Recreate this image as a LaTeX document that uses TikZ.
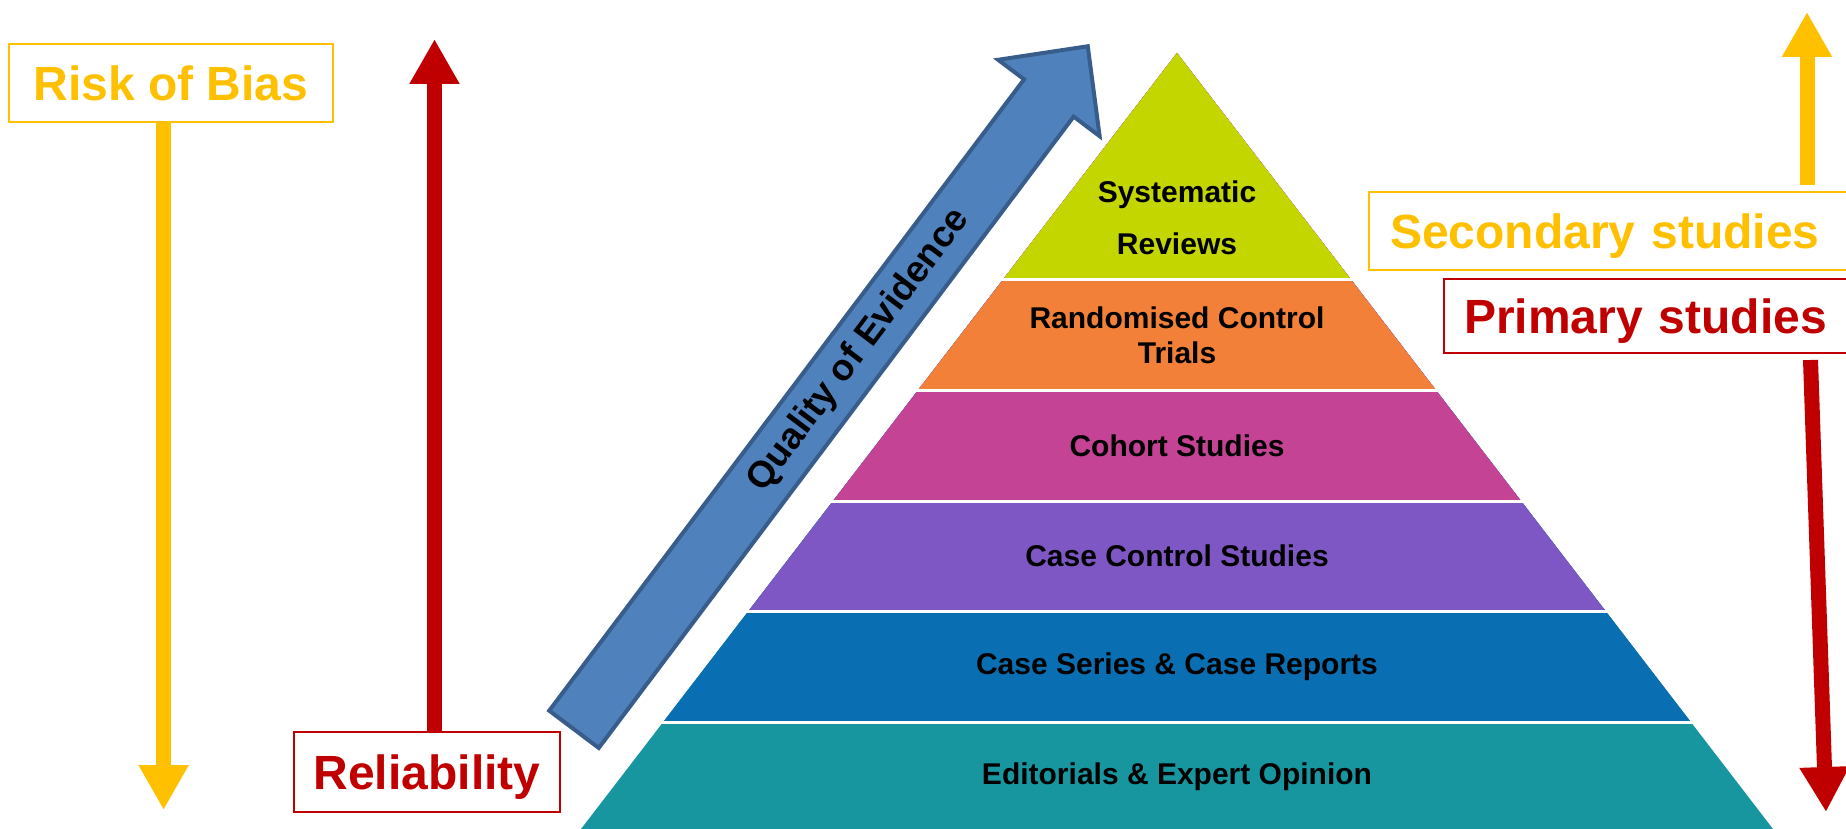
\documentclass[tikz,border=0pt]{standalone}
\usepackage{fontspec}
\setmainfont{Liberation Sans}
\usepackage{xcolor}
\usepackage{tikz}
\usetikzlibrary{positioning, calc, arrows.meta}
\definecolor{biasyellow}{RGB}{255,192,0}
\definecolor{reliabred}{RGB}{192,0,0}
\definecolor{srgreen}{RGB}{196,214,0}
\definecolor{rctorange}{RGB}{242,128,56}
\definecolor{cohortpink}{RGB}{196,67,148}
\definecolor{casepurple}{RGB}{127,87,196}
\definecolor{seriesblue}{RGB}{9,111,178}
\definecolor{opinionteal}{RGB}{24,150,160}
\definecolor{qualityblue}{RGB}{79,129,189}
\definecolor{qualityedge}{RGB}{56,93,138}

\tikzset{
  labelbox/.style={draw, line width=2pt, fill=white, inner sep=0pt, text depth=0pt,
    font=\fontsize{48}{56}\selectfont\bfseries},
  levelnode/.style={text=black, align=center, font=\fontsize{30}{35}\selectfont\bfseries},
  thickarrow/.style={line width=15pt, -{Triangle[width=47pt,length=45pt]}}
}

\begin{document}
\begin{tikzpicture}[x=1pt, y=1pt]
\useasboundingbox (0,0) rectangle (1846,828);
\clip (0,0) rectangle (1846,828);

%% pyramid, painted from the base up
\pgfmathsetmacro{\apexx}{1177}
\pgfmathsetmacro{\apexy}{775}
\pgfmathsetmacro{\slope}{0.768}
\foreach \lowy/\col in {-10/opinionteal, 106/seriesblue, 216.5/casepurple, 327/cohortpink, 437.5/rctorange, 548/srgreen} {
  \pgfmathsetmacro{\halfw}{\slope*(\apexy-\lowy)}
  \fill[\col] (\apexx,\apexy) -- (\apexx+\halfw,\lowy) -- (\apexx-\halfw,\lowy) -- cycle;
}
\foreach \gapy in {106, 216.5, 327, 437.5, 548} {
  \pgfmathsetmacro{\halfw}{\slope*(\apexy-\gapy)+4}
  \draw[white, line width=3pt] (\apexx-\halfw,\gapy) -- (\apexx+\halfw,\gapy);
}

\node[levelnode, font=\fontsize{30}{52}\selectfont\bfseries] (sr) at (\apexx,610) {Systematic\\Reviews};
\node[levelnode] (rct) at (\apexx,493) {Randomised Control\\Trials};
\node[levelnode] (cohort) at (\apexx,382) {Cohort Studies};
\node[levelnode] (casecontrol) at (\apexx,272) {Case Control Studies};
\node[levelnode] (caseseries) at (\apexx,161) {Case Series \& Case Reports};
\node[levelnode] (opinion) at (\apexx,51) {Editorials \& Expert Opinion};

%% quality arrow along the left flank
\begin{scope}[shift={(574,98.7)}, rotate=53.05]
\draw[fill=qualityblue, draw=qualityedge, line width=4pt] (0,-31) -- ++(790,0) -- ++(0,-32.5) -- (854.7,0) -- (790,63.5) -- ++(0,-32.5) -- (0,31) -- cycle;
\node[transform shape, text=black, font=\fontsize{37}{40}\selectfont\bfseries] (quality) at (474,0) {Quality of Evidence};
\end{scope}

%% left side
\node[labelbox, draw=biasyellow, text=biasyellow, minimum width=324pt, minimum height=78pt] (bias) at (171,744.5) {Risk of Bias};
\node[labelbox, draw=reliabred, text=reliabred, minimum width=266pt, minimum height=80pt] (reliab) at (427,56) {Reliability};
\coordinate (biastip) at (163.6,18);
\coordinate (reliabtip) at (434.5,789);
\draw[thickarrow, biasyellow] (bias.south -| biastip) -- (biastip);
\draw[thickarrow, reliabred] (reliab.north -| reliabtip) -- (reliabtip);

%% right side
\node[labelbox, draw=biasyellow, text=biasyellow, anchor=west, minimum height=78pt, text width=480pt, inner xsep=21pt, align=left] (secondary) at (1368,597) {Secondary studies};
\node[labelbox, draw=reliabred, text=reliabred, anchor=west, minimum height=74pt, text width=420pt, inner xsep=20pt, align=left] (primary) at (1443,512) {Primary studies};
\coordinate (sectip) at (1807,816);
\coordinate (pritip) at (1826,16);
\draw[thickarrow, biasyellow] ($(secondary.north -| sectip)+(0,6)$) -- (sectip);
\draw[thickarrow, reliabred] ($(primary.south -| 1810.5,0)+(0,-6)$) -- (pritip);
\end{tikzpicture}
\end{document}
